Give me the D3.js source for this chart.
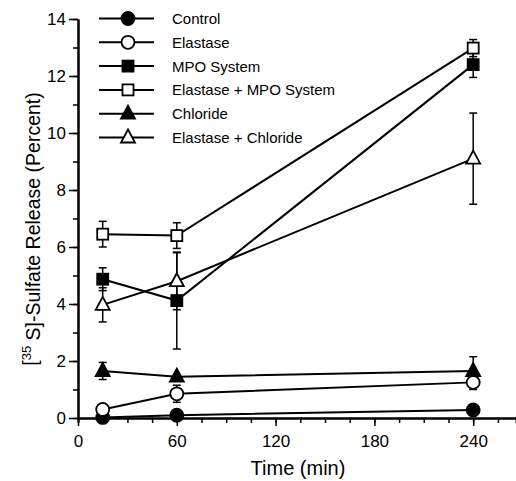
<!DOCTYPE html>
<html>
<head>
<meta charset="utf-8">
<script src="https://cdn.jsdelivr.net/npm/d3@7"></script>
<style>
  body { margin: 0; background: #fff; }
  text { font-family: "Liberation Sans", Arial, sans-serif; fill: #000; }
</style>
</head>
<body>
<div id="dataviz"></div>
<script>
// data
var times = [15, 60, 240];
var seriesNames = ["Control", "Elastase", "MPO System", "Elastase + MPO System", "Chloride", "Elastase + Chloride"];
var control = [0.02, 0.1, 0.28];
var controlErr = [0, 0, 0];
var elastase = [0.3, 0.85, 1.25];
var elastaseErr = [0, 0.3, 0.25];
var mpo = [4.87, 4.12, 12.4];
var mpoErr = [0.4, 1.7, 0.45];
var elaMpo = [6.45, 6.4, 12.98];
var elaMpoErr = [0.45, 0.45, 0.3];
var chloride = [1.65, 1.45, 1.65];
var chlorideErr = [0.3, 0, 0.5];
var elaChl = [3.97, 4.8, 9.1];
var elaChlErr = [0.6, 1.0, 1.6];

var xTicks = [0, 60, 120, 180, 240];
var yTicks = [0, 2, 4, 6, 8, 10, 12, 14];

var markers = [
  {shape: "circle", fill: "#000"},
  {shape: "circle", fill: "#fff"},
  {shape: "square", fill: "#000"},
  {shape: "square", fill: "#fff"},
  {shape: "triangle", fill: "#000"},
  {shape: "triangle", fill: "#fff"}
];
var allValues = [control, elastase, mpo, elaMpo, chloride, elaChl];
var allErrs = [controlErr, elastaseErr, mpoErr, elaMpoErr, chlorideErr, elaChlErr];

var W = 516, H = 481;
var margin = {top: 19, right: 0, bottom: 63, left: 78};
var width = W - margin.left - margin.right;
var height = H - margin.top - margin.bottom;

var svg = d3.select("#dataviz").append("svg")
    .attr("width", W).attr("height", H)
  .append("g")
    .attr("transform", "translate(" + margin.left + "," + margin.top + ")");

var x = d3.scaleLinear().domain([0, 266]).range([0, 438]);
var y = d3.scaleLinear().domain([0, 14]).range([height, 0]);

// x axis
var xAxis = svg.append("g").attr("transform", "translate(0," + height + ")");
xAxis.call(d3.axisBottom(x).tickValues(d3.range(0, 256, 15)).tickSize(5).tickFormat(""));
xAxis.append("g").call(d3.axisBottom(x).tickValues(xTicks).tickSize(8).tickSizeOuter(0)
    .tickFormat(d3.format("d")));
xAxis.selectAll(".domain").attr("stroke-width", 2);
xAxis.selectAll(".tick line").attr("stroke-width", 1.5);
xAxis.selectAll("text").style("font-size", "17px").attr("y", 17);

// y axis
var yAxis = svg.append("g");
yAxis.call(d3.axisLeft(y).tickValues(d3.range(0, 15, 1)).tickSize(5).tickFormat("").tickSizeOuter(0));
yAxis.append("g").call(d3.axisLeft(y).tickValues(yTicks).tickSize(9).tickSizeOuter(0));
yAxis.selectAll(".domain").attr("stroke-width", 2);
yAxis.selectAll(".tick line").attr("stroke-width", 1.5);
yAxis.selectAll("text").style("font-size", "17px").attr("x", -12);

function drawMarker(g, m, cx, cy) {
  if (m.shape == "circle") {
    g.append("circle").attr("cx", cx).attr("cy", cy).attr("r", 6.5)
      .attr("fill", m.fill).attr("stroke", "#000").attr("stroke-width", 1.8);
  } else if (m.shape == "square") {
    g.append("rect").attr("x", cx - 5.5).attr("y", cy - 5.5).attr("width", 11).attr("height", 11)
      .attr("fill", m.fill).attr("stroke", "#000").attr("stroke-width", 1.8);
  } else {
    g.append("path").attr("d", "M" + cx + "," + (cy - 8) + "L" + (cx + 7) + "," + (cy + 5) + "L" + (cx - 7) + "," + (cy + 5) + "Z")
      .attr("fill", m.fill).attr("stroke", "#000").attr("stroke-width", 1.8);
  }
}

var line = d3.line().x(function(d){ return x(d.t); }).y(function(d){ return y(d.v); });

allValues.forEach(function(vals, i) {
  var pts = times.map(function(t, j){ return {t: t, v: vals[j], e: allErrs[i][j]}; });
  var g = svg.append("g");
  g.append("path").datum(pts).attr("d", line)
    .attr("fill", "none").attr("stroke", "#000").attr("stroke-width", 2);
  // error bars
  pts.forEach(function(p) {
    if (p.e <= 0) return;
    var px = x(p.t);
    g.append("line").attr("x1", px).attr("x2", px).attr("y1", y(p.v + p.e)).attr("y2", y(p.v - p.e))
      .attr("stroke", "#000").attr("stroke-width", 1.5);
    [p.v + p.e, p.v - p.e].forEach(function(v) {
      g.append("line").attr("x1", px - 4).attr("x2", px + 4).attr("y1", y(v)).attr("y2", y(v))
        .attr("stroke", "#000").attr("stroke-width", 1.5);
    });
  });
});

// markers on top
allValues.forEach(function(vals, i) {
  var g = svg.append("g");
  times.forEach(function(t, j){ drawMarker(g, markers[i], x(t), y(vals[j])); });
});

// legend
var legend = svg.append("g").attr("transform", "translate(" + (99 - margin.left) + "," + (18.5 - margin.top) + ")");
seriesNames.forEach(function(name, i) {
  var ly = i * 23.8;
  legend.append("line").attr("x1", 0).attr("x2", 55).attr("y1", ly).attr("y2", ly)
    .attr("stroke", "#000").attr("stroke-width", 2);
  drawMarker(legend, markers[i], 29, ly);
  legend.append("text").attr("x", 73).attr("y", ly).attr("dy", "0.36em")
    .style("font-size", "15px").text(name);
});

// axis titles
svg.append("text")
  .attr("x", 298 - margin.left).attr("y", 475 - margin.top)
  .style("text-anchor", "middle").style("font-size", "20px")
  .text("Time (min)");

var yt = svg.append("text")
  .attr("transform", "translate(" + (37 - margin.left) + "," + (229 - margin.top) + ") rotate(-90)")
  .style("text-anchor", "middle").style("font-size", "19.5px");
yt.append("tspan").text("[");
yt.append("tspan").attr("dy", "-0.45em").style("font-size", "13px").text("35");
yt.append("tspan").attr("dy", "0.45em").text(" S]-Sulfate Release (Percent)");
</script>
</body>
</html>
